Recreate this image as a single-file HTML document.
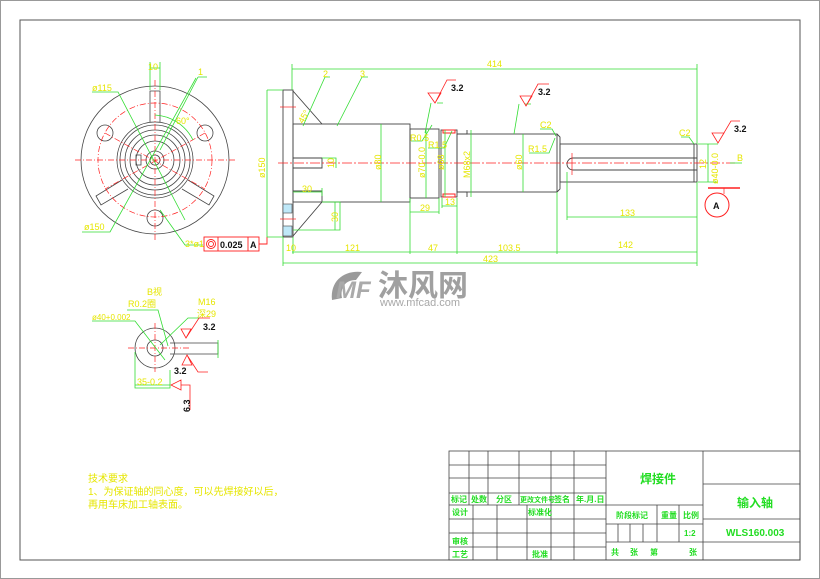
<!DOCTYPE html>
<html><head><meta charset="utf-8"><style>
html,body{margin:0;padding:0;background:#fff;}
svg{display:block;}
text{font-family:"Liberation Sans","Noto Sans CJK SC",sans-serif;}
.y{fill:#e6e600;font-size:9px;}
.g{fill:#22dd22;font-size:9px;font-weight:bold;}
.k{fill:#111;font-size:9px;font-weight:bold;}
</style></head><body>
<svg width="820" height="579" viewBox="0 0 820 579" xmlns="http://www.w3.org/2000/svg">
<rect x="0.5" y="0.5" width="819" height="578" fill="#fff" stroke="#999"/>
<rect x="20" y="20" width="780" height="540" fill="none" stroke="#555" stroke-width="1"/>

<!-- FRONT VIEW -->
<g fill="none" stroke="#444" stroke-width="0.8">
<circle cx="155" cy="160" r="74"/>
<circle cx="155" cy="160" r="38"/><circle cx="155" cy="160" r="35"/>
<circle cx="155" cy="160" r="30"/><circle cx="155" cy="160" r="25"/>
<circle cx="155" cy="160" r="19"/><circle cx="155" cy="160" r="9"/><circle cx="155" cy="160" r="5"/>
<circle cx="105" cy="133" r="8"/><circle cx="205" cy="133" r="8"/><circle cx="155" cy="218" r="8"/>
<path d="M150 122 V91 H160 V122"/>
<path d="M122 180 L96 196 L101 205 L128 189"/>
<path d="M188 180 L214 196 L209 205 L182 189"/>
<rect x="136" y="155" width="5" height="10"/>
</g>
<g fill="none" stroke="#ff2020" stroke-width="0.7" stroke-dasharray="6,2,1,2">
<circle cx="155" cy="160" r="57"/>
<line x1="75" y1="160" x2="235" y2="160"/><line x1="155" y1="80" x2="155" y2="240"/>
<line x1="105" y1="133" x2="205" y2="189"/><line x1="205" y1="133" x2="105" y2="189"/>
</g>
<g fill="none" stroke="#33dd33" stroke-width="0.8">
<path d="M150 62 V90 M160 62 V90 M150 68 H160"/>
<path d="M198 77 L160 150 M207 77 H198"/>
<path d="M92 92 H118 L185 220"/>
<path d="M82 232 H110 L196 78"/>
<path d="M155 115 A45 45 0 0 1 193 140"/>
<path d="M160 210 L185 245 H203"/>
</g>
<text class="y" x="148" y="70">10</text><text class="y" x="198" y="75">1</text>
<text class="y" x="92" y="91">ø115</text><text class="y" x="176" y="124">60°</text>
<text class="y" x="84" y="230">ø150</text><text class="y" x="185" y="247">3*ø1</text>
<g fill="none" stroke="#ff2020" stroke-width="0.9">
<rect x="204" y="237" width="55" height="14"/><line x1="218" y1="237" x2="218" y2="251"/><line x1="248" y1="237" x2="248" y2="251"/>
<circle cx="211" cy="244" r="4.5"/><circle cx="211" cy="244" r="2.5"/>
<path d="M259 244 H267 V237"/>
</g>
<text class="k" x="220" y="248">0.025</text><text class="k" x="250" y="248">A</text>

<!-- SIDE VIEW -->
<g fill="none" stroke="#444" stroke-width="0.9">
<rect x="283" y="90" width="10" height="147"/>
<path d="M293 91 L322 124 M293 236 L322 202"/>
<rect x="293" y="124" width="117" height="78"/>
<path d="M293 158 H322 V168 H293"/>
<path d="M293 191 H322 V202"/>
<rect x="410" y="129" width="29" height="69"/>
<rect x="441" y="130" width="16" height="67"/>
<path d="M457 134 H467 V130 M457 192 H467 V197"/>
<rect x="457" y="134" width="100" height="58"/>
<path d="M557 134 L560 137 V189 L557 192"/>
<rect x="560" y="144" width="137" height="38"/>
<path d="M694 144 V182"/>
<path d="M697 158 H573 A6 6 0 0 0 573 170 H697"/>
</g>
<rect x="443" y="130" width="12" height="3" fill="none" stroke="#ff2020"/>
<rect x="443" y="194" width="12" height="3" fill="none" stroke="#ff2020"/>
<rect x="283" y="204" width="9" height="9" fill="#bfe8f8" stroke="#444" stroke-width="0.6"/>
<rect x="283" y="226" width="9" height="10" fill="#bfe8f8" stroke="#444" stroke-width="0.6"/>
<g stroke="#ff2020" stroke-width="0.7">
<line x1="278" y1="163" x2="735" y2="163" stroke-dasharray="10,2,2,2"/>
<line x1="280" y1="107" x2="296" y2="107"/><line x1="280" y1="219" x2="296" y2="219"/>
<line x1="572" y1="153" x2="572" y2="175"/>
<line x1="708" y1="188" x2="740" y2="188" stroke-width="1.5"/>
<line x1="724" y1="188" x2="724" y2="194"/>
</g>
<circle cx="717" cy="205" r="12" fill="none" stroke="#ff2020"/>
<text class="k" x="713" y="209">A</text>
<g fill="none" stroke="#33dd33" stroke-width="0.8">
<path d="M292 69 H697 M292 64 V90 M697 64 V144"/>
<path d="M283 263 H697 M283 237 V266 M697 182 V266"/>
<path d="M292 252 H697 M410 198 V254 M457 198 V254 M557 192 V254 M293 237 V254"/>
<path d="M567 217 H697 M567 172 V220"/>
<path d="M267 90 H283 M267 237 H283 M267 90 V237"/>
<path d="M410 212 H439 M439 198 V214 M442 206 H457 M442 198 V208"/>
<path d="M293 192 H322 M322 188 V196"/>
<path d="M322 202 H340 V230 H293 M335 202 V230"/>
<path d="M322 158 H336 V168"/>
<path d="M381 124 V202 M426 129 V198 M445 130 V197 M471 130 V197 M523 134 V192"/>
<path d="M303 126 L325 77 H330 M337 126 L362 77 H368"/>
<path d="M411 141 H422 L432 125 M428 148 H444 L452 131"/>
<path d="M431 103 L425 133 M437 103 H443"/>
<path d="M519 104 L514 134 M525 104 H531"/>
<path d="M540 129 H552 L556 136 M529 153 H549 L555 138"/>
<path d="M681 137 H689 L694 144 M698 144 H718 M698 182 H718 M708 144 V182"/>
<path d="M730 163 H742"/>
</g>
<g fill="none" stroke="#ff2020" stroke-width="0.8">
<path d="M428 93 H441 L435 103 Z M435 103 L447 80 H456"/>
<path d="M520 96 H532 L526 106 Z M526 106 L538 84 H549"/>
<path d="M712 133 H724 L718 143 Z M718 143 L731 121 H740"/>
</g>
<text class="k" x="451" y="91">3.2</text><text class="k" x="538" y="95">3.2</text><text class="k" x="734" y="132">3.2</text>
<text class="y" x="323" y="77">2</text><text class="y" x="360" y="77">3</text>
<text class="y" x="487" y="67">414</text><text class="y" x="483" y="262">423</text>
<text class="y" x="286" y="251">10</text><text class="y" x="345" y="251">121</text><text class="y" x="428" y="251">47</text>
<text class="y" x="498" y="251">103.5</text><text class="y" x="618" y="248">142</text>
<text class="y" x="620" y="216">133</text><text class="y" x="420" y="211">29</text><text class="y" x="445" y="205">13</text>
<text class="y" x="302" y="192">30</text>
<text class="y" x="410" y="141">R0.5</text><text class="y" x="428" y="148">R1.5</text>
<text class="y" x="528" y="152">R1.5</text><text class="y" x="540" y="128">C2</text><text class="y" x="679" y="136">C2</text>
<text class="y" x="737" y="161">B</text>
<g class="y">
<text transform="translate(303,124) rotate(-60)" class="y">45°</text>
<text transform="translate(265,178) rotate(-90)" class="y">ø150</text>
<text transform="translate(334,168) rotate(-90)" class="y">10</text>
<text transform="translate(338,222) rotate(-90)" class="y">30</text>
<text transform="translate(381,170) rotate(-90)" class="y">ø80</text>
<text transform="translate(425,178) rotate(-90)" class="y">ø70-0.0</text>
<text transform="translate(444,170) rotate(-90)" class="y">ø68</text>
<text transform="translate(470,178) rotate(-90)" class="y">M68x2</text>
<text transform="translate(522,170) rotate(-90)" class="y">ø60</text>
<text transform="translate(706,169) rotate(-90)" class="y">12</text>
<text transform="translate(718,184) rotate(-90)" class="y">ø40-0.0</text>
</g>

<!-- WATERMARK -->
<g fill="#9a9a9a">
<path d="M332 300 C330 280 345 270 362 272 L356 280 C345 280 340 288 342 298 Z"/>
<text x="336" y="298" style="font-size:24px;font-weight:bold;font-style:italic;fill:#aaa">MF</text>
<text x="378" y="296" style="font-size:30px;font-weight:bold;fill:#a0a0a0">沐风网</text>
<text x="380" y="306" style="font-size:11px;fill:#a8a8a8">www.mfcad.com</text>
</g>

<!-- B VIEW -->
<text class="y" x="147" y="295">B视</text>
<text class="y" x="128" y="307">R0.2圈</text>
<text class="y" x="198" y="305">M16</text><text class="y" x="197" y="317">深29</text>
<text class="y" x="92" y="320" style="font-size:8px">ø40+0.002</text>
<g fill="none" stroke="#444" stroke-width="0.8">
<circle cx="155" cy="348" r="20"/><circle cx="155" cy="348" r="8"/>
<path d="M170 343 H218 V354 H170"/>
</g>
<g stroke="#ff2020" stroke-width="0.7" stroke-dasharray="6,2,1,2"><line x1="128" y1="348" x2="190" y2="348"/><line x1="155" y1="323" x2="155" y2="372"/></g>
<g fill="none" stroke="#33dd33" stroke-width="0.8">
<path d="M92 321 H135 L165 360 M127 310 H158 L168 346 M200 318 H188 L160 345"/>
<path d="M135 352 V388 H170 V370 M135 385 H170 M218 340 V358"/>
</g>
<g fill="none" stroke="#ff2020" stroke-width="0.8">
<path d="M181 329 H191 L186 338 Z M186 338 L199 318 H210"/>
<path d="M182 365 H192 L187 355 Z M187 355 L198 372 H208"/>
<path d="M181 380 L171 385 L181 390 Z M181 385 H190 V410"/>
</g>
<text class="k" x="203" y="330">3.2</text><text class="k" x="174" y="374">3.2</text>
<text class="y" x="137" y="385">35-0.2</text>
<text transform="translate(190,412) rotate(-90)" class="k">6.3</text>

<!-- TECH REQ -->
<text x="88" y="482" style="font-size:10px;fill:#e6e600;font-family:'Liberation Sans','Noto Sans CJK SC',sans-serif">技术要求</text>
<text x="88" y="495" style="font-size:10px;fill:#e6e600;font-family:'Liberation Sans','Noto Sans CJK SC',sans-serif">1、为保证轴的同心度，可以先焊接好以后，</text>
<text x="88" y="508" style="font-size:10px;fill:#e6e600;font-family:'Liberation Sans','Noto Sans CJK SC',sans-serif">再用车床加工轴表面。</text>

<!-- TITLE BLOCK -->
<g fill="none" stroke="#444" stroke-width="0.8">
<rect x="449" y="451" width="351" height="109"/>
<path d="M449 465 H606 M449 478 H606 M449 493 H606 M449 505 H606 M449 519 H606 M449 533 H606 M449 547 H606"/>
<path d="M469 451 V505 M488 451 V505 M519 451 V505 M551 451 V505 M574 451 V505"/>
<path d="M473 505 V560 M497 505 V560 M527 505 V560 M551 505 V560 M574 505 V560"/>
<path d="M606 451 V560 M703 451 V560"/>
<path d="M606 505 H703 M606 524 H703 M606 542 H800"/>
<path d="M657 505 V542 M679 505 V542 M618 524 V542 M630 524 V542 M643 524 V542"/>
<path d="M703 484 H800 M703 519 H800"/>
</g>
<g class="g" style="font-size:8px">
<text x="451" y="502">标记</text><text x="471" y="502">处数</text><text x="496" y="502">分区</text>
<text x="520" y="502" style="font-size:7px">更改文件号</text><text x="554" y="502">签名</text><text x="576" y="502">年.月.日</text>
<text x="452" y="515">设计</text><text x="528" y="515">标准化</text>
<text x="452" y="544">审核</text><text x="452" y="557">工艺</text><text x="532" y="557">批准</text>
<text x="616" y="518">阶段标记</text><text x="661" y="518">重量</text><text x="683" y="518">比例</text>
<text x="684" y="536">1:2</text>
<text x="611" y="555">共</text><text x="630" y="555">张</text><text x="650" y="555">第</text><text x="689" y="555">张</text>
</g>
<text class="g" x="640" y="483" style="font-size:12px">焊接件</text>
<text class="g" x="737" y="507" style="font-size:12px">输入轴</text>
<text class="g" x="726" y="536" style="font-size:10px">WLS160.003</text>
</svg>
</body></html>
